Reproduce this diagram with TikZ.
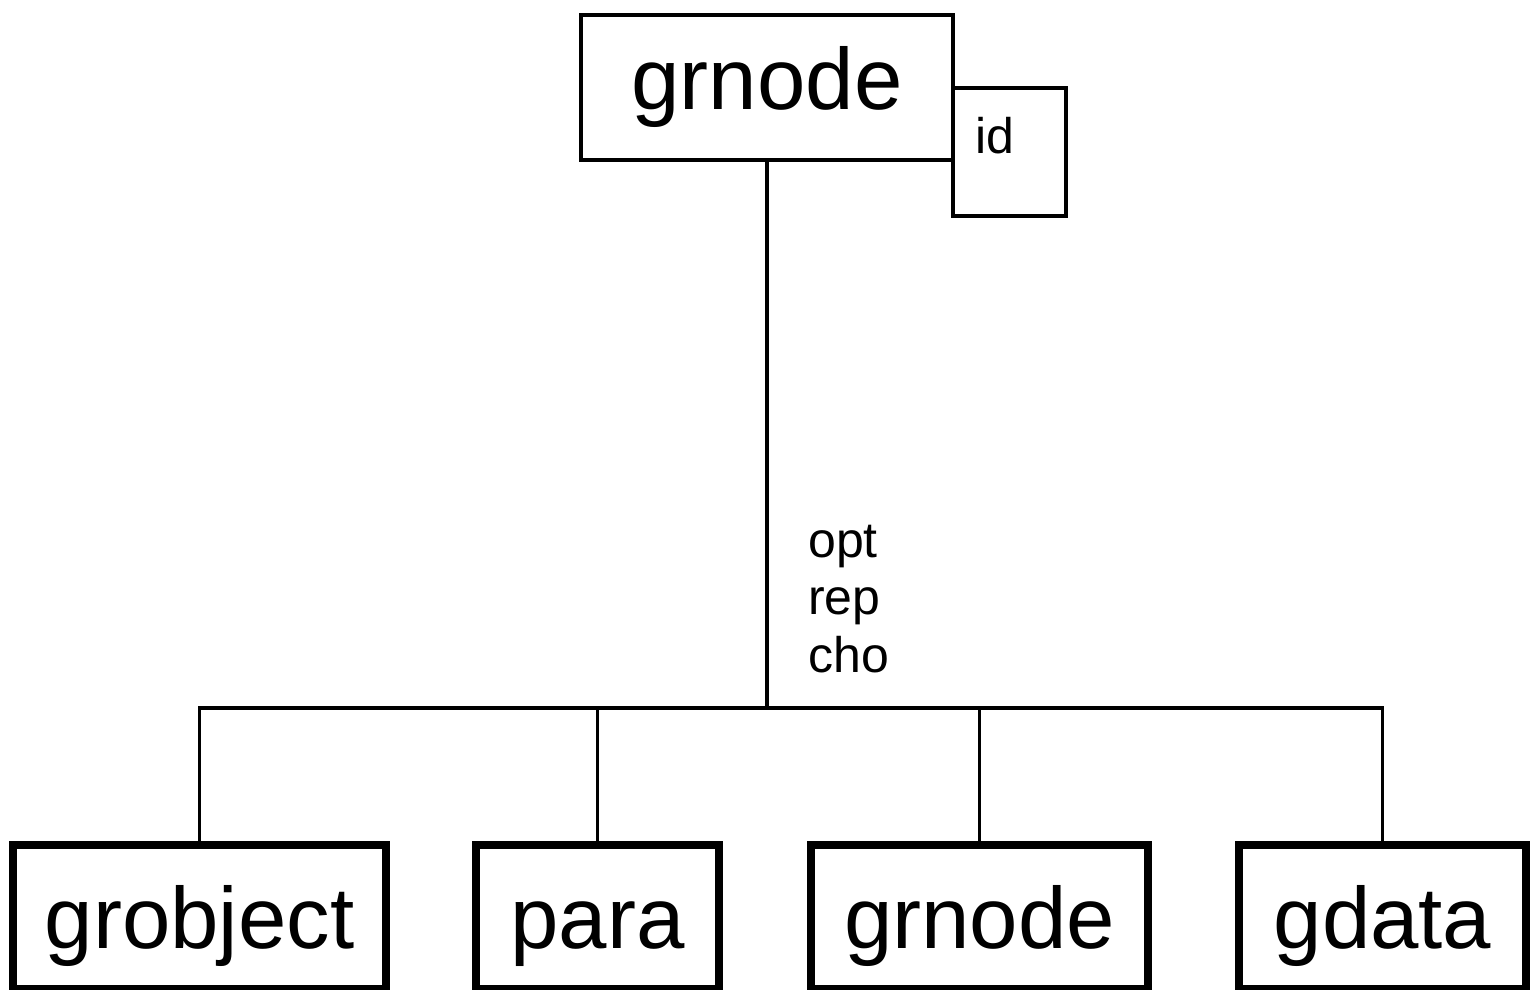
\documentclass[tikz,border=0pt]{standalone}
\usepackage{fontspec}
\setmainfont{Liberation Sans}
\begin{document}
\begin{tikzpicture}[x=1pt,y=-1pt,
  elem/.style={draw, line width=4pt, inner sep=0pt, font=\fontsize{87}{100}\selectfont},
  child/.style={draw, line width=8pt, inner sep=0pt, minimum height=144pt,
    text height=62pt, text depth=0pt, font=\fontsize{87}{100}\selectfont},
  small/.style={anchor=base west, inner sep=0pt, font=\fontsize{50}{58}\selectfont},
  link/.style={line width=3.5pt}]
\useasboundingbox (0,0) rectangle (1531,989);
\node[elem, minimum width=372pt, minimum height=145pt] (top) at (767,87.5) {grnode};
\node[draw, line width=4pt, minimum width=113pt, minimum height=128pt] (id) at (1009.5,152) {};
\node[small] (idtxt) at (975,153) {id};
\node[child, minimum width=373pt] (grobject) at (199.5,917) {grobject};
\node[child, minimum width=243pt] (para) at (597.5,917) {para};
\node[child, minimum width=337pt] (grnode) at (979.5,917) {grnode};
\node[child, minimum width=287pt] (gdata) at (1382.5,917) {gdata};
\coordinate (bus) at (767,708);
\draw[link] (top) -- (bus);
\draw[link] (grobject.north) |- (bus) -| (gdata.north);
\foreach \n in {para,grnode}
  \draw[link] (bus -| \n.north) -- (\n.north);
\node[small] (opt) at (808,557) {opt};
\node[small] (rep) at (808,614) {rep};
\node[small] (cho) at (808,672) {cho};
\end{tikzpicture}
\end{document}
